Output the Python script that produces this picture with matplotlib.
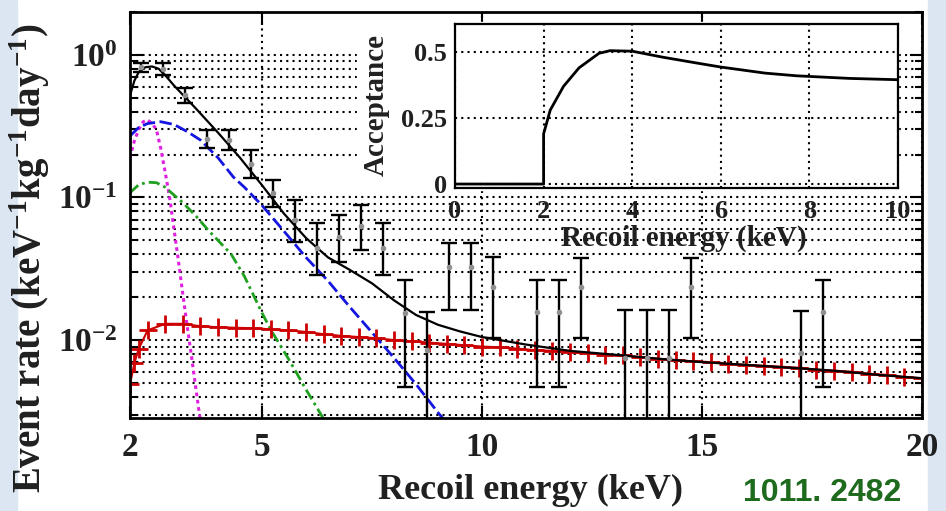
import matplotlib
matplotlib.use("Agg")
import matplotlib.pyplot as plt
import numpy as np
from matplotlib.patches import Rectangle
from matplotlib.ticker import FixedLocator, LogLocator, NullFormatter

plt.rcParams['font.family'] = 'Liberation Serif'
plt.rcParams['font.weight'] = 'bold'
plt.rcParams['mathtext.fontset'] = 'custom'
plt.rcParams['mathtext.rm'] = 'Liberation Serif:bold'
plt.rcParams['mathtext.bf'] = 'Liberation Serif:bold'
plt.rcParams['mathtext.it'] = 'Liberation Serif:bold:italic'
plt.rcParams['mathtext.default'] = 'rm'

TXT = '#202020'

# total (black)
e_tot = [2.0, 2.1, 2.2, 2.35, 2.5, 2.65, 2.8, 3.0, 3.5, 4.0, 4.5, 5.0, 5.5, 6.0, 6.5,
         7.0, 7.5, 8.0, 8.5, 9.0, 9.5, 10.0, 11.0, 12.0, 13.0, 14.0, 15.0, 16.0,
         17.0, 18.0, 19.0, 20.0]
r_tot = [0.52, 0.66, 0.76, 0.82, 0.83, 0.80, 0.72, 0.61, 0.42, 0.285, 0.19, 0.122,
         0.077, 0.052, 0.038, 0.031, 0.025, 0.019, 0.0150, 0.0128, 0.0115, 0.0105,
         0.0093, 0.0084, 0.0079, 0.0074, 0.0070, 0.0067, 0.0064, 0.0061, 0.0057, 0.0054]

# blue dashed
e_blue = [2.0, 2.2, 2.4, 2.7, 3.0, 3.3, 3.6, 4.0, 4.35, 4.6, 5.0, 5.5, 6.0, 6.5,
          7.0, 7.5, 8.0, 8.5, 9.0, 9.3]
r_blue = [0.27, 0.31, 0.33, 0.34, 0.325, 0.29, 0.253, 0.19, 0.139, 0.118, 0.088,
          0.058, 0.038, 0.026, 0.017, 0.0113, 0.0075, 0.0049, 0.0031, 0.0024]

# magenta dotted
e_mag = [2.0, 2.1, 2.2, 2.3, 2.4, 2.5, 2.6, 2.7, 2.8, 2.9, 3.0, 3.1, 3.2, 3.3,
         3.4, 3.5, 3.6, 3.7]
r_mag = [0.19, 0.25, 0.30, 0.34, 0.35, 0.33, 0.30, 0.22, 0.15, 0.10, 0.060, 0.036,
         0.021, 0.0125, 0.0076, 0.0045, 0.0027, 0.0017]

# green dash-dot
e_grn = [2.0, 2.2, 2.4, 2.6, 2.8, 3.0, 3.2, 3.5, 3.8, 4.0, 4.3, 4.6, 5.0, 5.2,
         5.6, 6.0, 6.4, 6.6]
r_grn = [0.108, 0.123, 0.128, 0.127, 0.118, 0.104, 0.092, 0.074, 0.058, 0.050,
         0.040, 0.028, 0.0155, 0.0118, 0.0074, 0.0045, 0.0028, 0.0022]

# red crosses
e_red = [2.0, 2.1, 2.2, 2.4, 2.8, 3.2, 3.6, 4.0, 4.4, 4.8, 5.2, 5.6, 6.0, 6.4, 6.8,
         7.2, 7.6, 8.0, 8.4, 8.8, 9.2, 9.6, 10.0, 10.4, 10.8, 11.2, 11.6, 12.0, 12.4,
         12.8, 13.2, 13.6, 14.0, 14.4, 14.8, 15.2, 15.6, 16.0, 16.4, 16.8, 17.2,
         17.6, 18.0, 18.4, 18.8, 19.2, 19.6, 20.0]
r_red = [0.0049, 0.0069, 0.0087, 0.0117, 0.0130, 0.0130, 0.0125, 0.0123, 0.0122,
         0.0121, 0.0119, 0.0117, 0.0114, 0.0110, 0.0107, 0.0105, 0.0103, 0.0100,
         0.0098, 0.0096, 0.0094, 0.0092, 0.0090, 0.0089, 0.0087, 0.0085, 0.0084,
         0.0082, 0.0081, 0.0079, 0.0078, 0.0076, 0.0074, 0.0072, 0.0071, 0.0070,
         0.0068, 0.0067, 0.0066, 0.0065, 0.0064, 0.0062, 0.0061, 0.0060, 0.0058,
         0.0057, 0.0055, 0.0054]

# measured points with error bars
e_dat = [2.25, 2.75, 3.25, 3.75, 4.25, 4.75, 5.25, 5.75, 6.25, 6.75, 7.25, 7.75,
         8.25, 8.75, 9.25, 9.75, 10.25, 11.25, 11.75, 12.25, 13.25, 13.75, 14.25,
         14.75, 17.25, 17.75]
r_dat = [0.82, 0.80, 0.52, 0.257, 0.254, 0.172, 0.108, 0.0695, 0.0442, 0.0528,
         0.0631, 0.0442, 0.0155, 0.0085, 0.0325, 0.0325, 0.0235, 0.0157, 0.0157,
         0.0235, 0.0075, 0.0075, 0.0075, 0.0235, 0.0081, 0.0157]
r_hi = [0.88, 0.88, 0.587, 0.298, 0.298, 0.215, 0.133, 0.096, 0.0662, 0.0754,
        0.0886, 0.0662, 0.0264, 0.0157, 0.048, 0.048, 0.0382, 0.0264, 0.0264,
        0.0376, 0.0162, 0.0162, 0.0162, 0.0376, 0.016, 0.0264]
r_lo = [0.76, 0.72, 0.46, 0.222, 0.215, 0.137, 0.0858, 0.0487, 0.0286, 0.0353,
        0.0428, 0.0286, 0.00468, 0.001, 0.0162, 0.0162, 0.0103, 0.00468, 0.00468,
        0.0103, 0.001, 0.001, 0.001, 0.0103, 0.001, 0.00468]

# inset: acceptance
e_acc = [0, 2.0, 2.0, 2.15, 2.45, 2.8, 3.25, 3.5, 4.0, 4.7, 5.5, 6.0, 7.0, 7.7, 8.9, 10.0]
acc = [0, 0, 0.19, 0.28, 0.37, 0.44, 0.495, 0.505, 0.503, 0.48, 0.457, 0.443,
       0.42, 0.41, 0.40, 0.395]

W, H = 946, 511
fig = plt.figure(figsize=(W / 100, H / 100), dpi=100)
fig.patch.set_facecolor('white')
fig.patches.append(Rectangle((0, 0), 17 / W, 1, transform=fig.transFigure,
                             color='#dbe6f2', zorder=-10))
fig.patches.append(Rectangle((928 / W, 0), 18 / W, 1, transform=fig.transFigure,
                             color='#dbe6f2', zorder=-10))

ax = fig.add_axes([130 / W, 1 - 418 / H, 792 / W, 406 / H])
ax.set_yscale('log')
ax.set_xlim(2, 20)
ax.set_ylim(2.84e-3, 2.0)

dot = (0, (1, 2))
ax.grid(True, which='both', axis='y', color='black', linestyle=dot, linewidth=1.5)
ax.grid(True, which='major', axis='x', color='black', linestyle=dot, linewidth=1.5)

ax.plot(e_mag, r_mag, color='#e020e0', linestyle=(0, (1.2, 1.2)), linewidth=2.2)
ax.plot(e_grn, r_grn, color='#1fa01f', linestyle=(0, (4, 1.5, 1, 1.5)), linewidth=2)
ax.plot(e_blue, r_blue, color='#1515e0', linestyle=(0, (4.5, 1.6)), linewidth=2)
ax.plot(e_red, r_red, color='#cc0000', marker='+', markersize=13, markeredgewidth=2,
        linewidth=1.5)
ax.plot(e_tot, r_tot, color='black', linewidth=1.6)

r_dat_a = np.array(r_dat)
yerr = [r_dat_a - np.array(r_lo), np.array(r_hi) - r_dat_a]
ax.errorbar(e_dat, r_dat, yerr=yerr, fmt='o', markersize=3, mfc='#909090', mec='#909090',
            ecolor='black', elinewidth=1.7, capsize=6, capthick=1.7)

ax.xaxis.set_major_locator(FixedLocator([2, 5, 10, 15, 20]))
ax.set_xticklabels(['2', '5', '10', '15', '20'])
ax.yaxis.set_major_locator(FixedLocator([1e-2, 1e-1, 1]))
ax.set_yticklabels([r'$10^{-2}$', r'$10^{-1}$', r'$10^{0}$'])
ax.yaxis.set_minor_locator(LogLocator(base=10, subs=np.arange(2, 10)))
ax.yaxis.set_minor_formatter(NullFormatter())
ax.tick_params(which='both', direction='in', top=True, right=True, width=1.5,
               labelsize=24, labelcolor=TXT)
ax.tick_params(which='major', length=9)
ax.tick_params(which='minor', length=5)
ax.tick_params(axis='x', pad=10)
ax.tick_params(axis='y', pad=9)
for s in ax.spines.values():
    s.set_linewidth(2)

# white panel behind the inset and its labels (below the top ticks)
fig.patches.append(Rectangle((357 / W, 1 - 190 / H), 541 / W, 168 / H,
                             transform=fig.transFigure, color='white', zorder=0.5))

fig.text(30 / W, 1 - 258 / H, r'Event rate (keV$^{-1}$kg$^{-1}$day$^{-1}$)',
         rotation=90, ha='center', va='center', fontsize=28, color=TXT)
fig.text(530 / W, 1 - 490 / H, 'Recoil energy (keV)', ha='center', va='center',
         fontsize=26, color=TXT)
fig.text(822 / W, 1 - 493 / H, '1011. 2482', ha='center', va='center', fontsize=23,
         color='#1e6b1e', family='Liberation Sans', weight='bold')

# inset
ax2 = fig.add_axes([455 / W, 1 - 188 / H, 443 / W, 164 / H])
ax2.set_zorder(1)
ax2.set_facecolor('white')
ax2.set_xlim(0, 10)
ax2.set_ylim(-0.015, 0.606)
ax2.plot(e_acc, acc, color='black', linewidth=2)
ax2.set_xticks([0, 2, 4, 6, 8, 10])
ax2.set_yticks([0, 0.25, 0.5])
ax2.set_yticklabels(['0', '0.25', '0.5'])
ax2.grid(True, color='black', linestyle=dot, linewidth=1.5)
ax2.tick_params(direction='in', length=0, labelsize=19, labelcolor=TXT)
ax2.tick_params(axis='x', pad=9)
ax2.tick_params(axis='y', pad=6)
for s in ax2.spines.values():
    s.set_linewidth(1.6)
fig.text(684 / W, 1 - 238 / H, 'Recoil energy (keV)', ha='center', va='center',
         fontsize=21, color=TXT)
fig.text(376 / W, 1 - 105 / H, 'Acceptance', rotation=90, ha='center', va='center',
         fontsize=21, color=TXT)

fig.savefig('out.png', dpi=100)
